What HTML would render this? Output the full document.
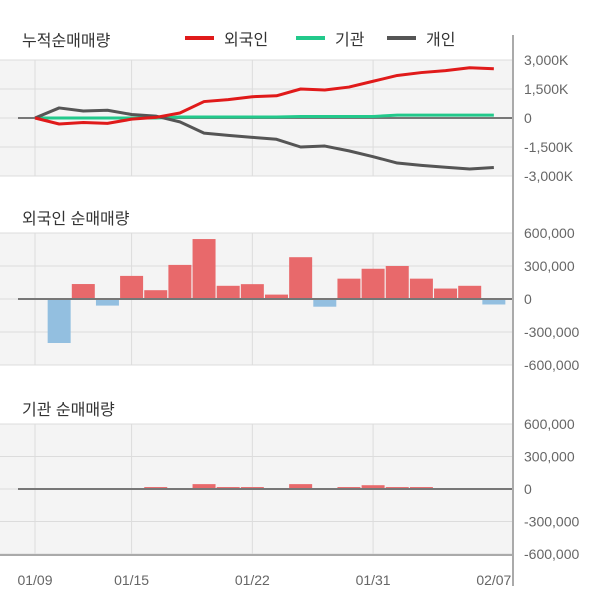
<!DOCTYPE html>
<html><head><meta charset="utf-8"><style>
body{margin:0;background:#fff;font-family:"Liberation Sans","Noto Sans CJK KR",sans-serif}
svg text{font-family:"Liberation Sans","Noto Sans CJK KR",sans-serif}
</style></head><body>
<svg id="c" width="600" height="604"></svg>
<script>
const dates=["01/09","01/15","01/22","01/31","02/07"];
const dateIdx=[0,4,9,14,19];
const foreignCum=[0,-310,-230,-280,-60,30,260,850,950,1100,1150,1500,1450,1600,1900,2200,2350,2450,2600,2550];
const instCum=[0,0,0,0,0,0,50,50,50,50,50,80,80,80,80,150,150,150,150,150];
const indivCum=[0,520,360,400,180,100,-200,-780,-900,-1000,-1100,-1500,-1450,-1700,-2000,-2330,-2450,-2550,-2640,-2560];
const foreignNet=[0,-400000,136000,-60000,210000,80000,310000,545000,120000,135000,40000,380000,-70000,185000,275000,300000,185000,95000,120000,-50000];
const instNet=[0,0,0,0,0,18000,0,45000,18000,18000,0,45000,0,18000,35000,18000,18000,0,0,0];
const cumTicks=["3,000K","1,500K","0","-1,500K","-3,000K"];
const netTicks=["600,000","300,000","0","-300,000","-600,000"];
const svg=document.getElementById('c');const NS="http://www.w3.org/2000/svg";
function mk(t,a,p){const e=document.createElementNS(NS,t);for(const k in a)e.setAttribute(k,a[k]);(p||svg).appendChild(e);return e;}
const X=i=>35+24.15*i;
const AX=513;
function panel(top,bot,ticks,name){
  const g=mk('g',{});
  
  
  mk('rect',{x:0,y:top,width:AX,height:bot-top,fill:'#f4f4f4'},g);
  for(let k=0;k<5;k++){const y=top+(bot-top)*k/4;
    mk('line',{x1:0,x2:AX,y1:y,y2:y,stroke:'#dcdcdc','stroke-width':1},g);
    const t=mk('text',{x:524,y:y+5,'font-size':14,fill:'#666'},g);t.textContent=ticks[k];
    
    }
  dateIdx.forEach(i=>{if(i<19)mk('line',{x1:X(i),x2:X(i),y1:top,y2:bot,stroke:'#dcdcdc'},g);});
  return g;
}
const g1=panel(60,176,cumTicks,'cumulative-panel');
const yC=v=>118-v/1500*29;
mk('line',{x1:18,x2:AX,y1:118,y2:118,stroke:'#777','stroke-width':2});
[[instCum,'#22c98b','institution-line'],[indivCum,'#555','individual-line'],[foreignCum,'#e01a1a','foreign-line']].forEach(([d,c,n])=>{
  const p=mk('polyline',{points:d.map((v,i)=>X(i)+','+yC(v)).join(' '),fill:'none',stroke:c,'stroke-width':3,'stroke-linejoin':'round'});
  
  
});
panel(233,365,netTicks,'foreign-net-panel');
const yM=v=>299-v/300000*33;
foreignNet.forEach((v,i)=>{if(!v)return;const r=mk('rect',{x:X(i)-11.5,width:23,y:Math.min(yM(v),299),height:Math.abs(yM(v)-299),fill:v>0?'#e8696b':'#93bfe0'});
  
  });
mk('line',{x1:18,x2:AX,y1:299,y2:299,stroke:'#777','stroke-width':2});
panel(424,554,netTicks,'institution-net-panel');
const yB=v=>489-v/300000*32.5;
instNet.forEach((v,i)=>{if(!v)return;const r=mk('rect',{x:X(i)-11.5,width:23,y:Math.min(yB(v),489),height:Math.abs(yB(v)-489),fill:v>0?'#e8696b':'#93bfe0'});
  
  });
mk('line',{x1:18,x2:AX,y1:489,y2:489,stroke:'#777','stroke-width':2});
mk('line',{x1:0,x2:AX,y1:555,y2:555,stroke:'#aaa','stroke-width':2});
mk('line',{x1:AX,x2:AX,y1:35,y2:586,stroke:'#aaa','stroke-width':2});
dates.forEach((d,k)=>{const t=mk('text',{x:X(dateIdx[k]),y:585,'font-size':14,fill:'#666','text-anchor':'middle'});t.textContent=d;
  
  });
[["누적순매매량",46,'cumulative-title'],["외국인 순매매량",224,'foreign-title'],["기관 순매매량",415,'institution-title']].forEach(([s,y,n])=>{
  const t=mk('text',{x:22,y:y,'font-size':16,fill:'#333'});t.textContent=s;
  
  });
[["외국인",185,'#e01a1a'],["기관",296,'#22c98b'],["개인",387,'#555']].forEach(([s,x,c])=>{
  const g=mk('g',{});
  
  
  mk('rect',{x:x,y:36,width:29,height:4,fill:c},g);
  const t=mk('text',{x:x+39,y:45,'font-size':16,fill:'#333'},g);t.textContent=s;});
</script>
</body></html>
